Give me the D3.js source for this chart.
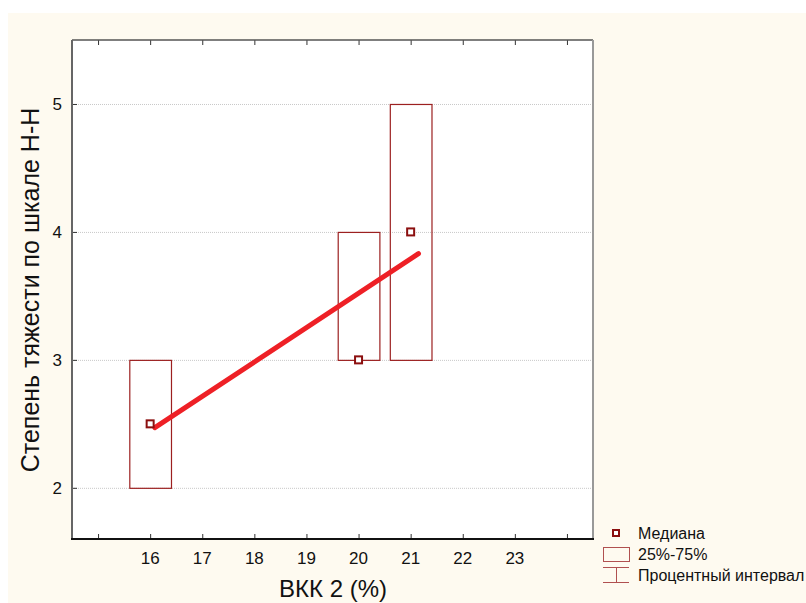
<!DOCTYPE html>
<html><head><meta charset="utf-8">
<script src="https://cdn.jsdelivr.net/npm/d3@7"></script>
<style>body{margin:0;background:#fff}svg{display:block}text{font-family:Arial,"Liberation Sans",sans-serif}</style>
</head><body><svg id="c" width="806" height="603"></svg>
<script>
const categories = [16, 20, 21];
const medians = [2.5, 3, 4];
const q25 = [2, 3, 3];
const q75 = [3, 4, 5];
const fitX = [16.09, 21.15];
const fitY = [2.47, 3.83];
const xTicks = [15,16,17,18,19,20,21,22,23,24];
const xLabels = [16,17,18,19,20,21,22,23];
const yTicks = [2,3,4,5];
const legendItems = ["Медиана", "25%-75%", "Процентный интервал"];

const svg = d3.select("#c");
const L=72, R=593, T=40, B=539;
svg.append("rect").attr("x",8).attr("y",13).attr("width",798).attr("height",590).attr("fill","#fefaf0");
svg.append("rect").attr("x",L).attr("y",T).attr("width",R-L).attr("height",B-T).attr("fill","#fff");

const x = d3.scaleLinear().domain([14.5,24.5]).range([L,R]);
const y = d3.scaleLinear().domain([1.6,5.5]).range([B,T]);

// grid
svg.append("g").selectAll("line").data(yTicks).join("line")
  .attr("x1",L).attr("x2",R).attr("y1",d=>y(d)+0.5).attr("y2",d=>y(d)+0.5)
  .attr("stroke","#c8c8c8").attr("stroke-dasharray","1,1");

// axes ticks (inward)
const gb = svg.append("g").attr("transform",`translate(0,${B})`)
  .call(d3.axisBottom(x).tickValues(xTicks).tickSize(-5).tickFormat(""));
const gt = svg.append("g").attr("transform",`translate(0,${T})`)
  .call(d3.axisTop(x).tickValues(xTicks).tickSize(-5).tickFormat(""));
const gl = svg.append("g").attr("transform",`translate(${L},0)`)
  .call(d3.axisLeft(y).tickValues(yTicks).tickSize(-5).tickFormat(""));
[gb,gt,gl].forEach(g=>{g.select(".domain").remove();g.selectAll("line").attr("stroke","#333");});

// tick labels
svg.append("g").selectAll("text").data(xLabels).join("text")
  .attr("x",d=>x(d)).attr("y",B+25).attr("text-anchor","middle").attr("font-size",17).attr("fill","#111").text(d=>d);
svg.append("g").selectAll("text").data(yTicks).join("text")
  .attr("x",L-10).attr("y",d=>y(d)+6).attr("text-anchor","end").attr("font-size",17).attr("fill","#111").text(d=>d);

// frame
svg.append("line").attr("x1",L).attr("x2",R).attr("y1",T).attr("y2",T).attr("stroke","#555").attr("stroke-width",1.5);
svg.append("line").attr("x1",R).attr("x2",R).attr("y1",T).attr("y2",B).attr("stroke","#999").attr("stroke-width",2);
svg.append("line").attr("x1",L).attr("x2",L).attr("y1",T).attr("y2",B).attr("stroke","#666").attr("stroke-width",2);
svg.append("line").attr("x1",L-1).attr("x2",R+1).attr("y1",B).attr("y2",B).attr("stroke","#111").attr("stroke-width",2);

// boxes
const bw = 0.4;
svg.append("g").selectAll("rect").data(categories).join("rect")
  .attr("x",d=>x(d-bw)+0.5).attr("width",d=>x(d+bw)-x(d-bw))
  .attr("y",(d,i)=>y(q75[i])+0.5).attr("height",(d,i)=>y(q25[i])-y(q75[i]))
  .attr("fill","none").attr("stroke","#9c2020").attr("stroke-width",1.2);

// fit line
svg.append("line").attr("x1",x(fitX[0])).attr("y1",y(fitY[0])).attr("x2",x(fitX[1])).attr("y2",y(fitY[1]))
  .attr("stroke","#ee2026").attr("stroke-width",5).attr("stroke-linecap","round");

// medians
svg.append("g").selectAll("rect").data(categories).join("rect")
  .attr("x",d=>x(d)-3.5).attr("y",(d,i)=>y(medians[i])-3.5).attr("width",7).attr("height",7)
  .attr("fill","#fff").attr("stroke","#8b0f0f").attr("stroke-width",2);

// axis titles
svg.append("text").attr("x",333).attr("y",597).attr("text-anchor","middle").attr("font-size",24).attr("fill","#111").text("ВКК 2 (%)");
svg.append("text").attr("transform","translate(39,290) rotate(-90)").attr("text-anchor","middle").attr("font-size",25).attr("fill","#111").text("Степень тяжести по шкале Н-Н");

// legend
const lg = svg.append("g");
lg.append("rect").attr("x",613).attr("y",530).attr("width",6).attr("height",6).attr("fill","#fff").attr("stroke","#8b0f0f").attr("stroke-width",2);
lg.append("rect").attr("x",603.5).attr("y",547.5).attr("width",26).attr("height",14).attr("fill","none").attr("stroke","#b05050").attr("stroke-width",1);
lg.append("line").attr("x1",603).attr("x2",629).attr("y1",567.5).attr("y2",567.5).attr("stroke","#b05050");
lg.append("line").attr("x1",616.5).attr("x2",616.5).attr("y1",567).attr("y2",582).attr("stroke","#b05050");
lg.append("line").attr("x1",603).attr("x2",629).attr("y1",582.5).attr("y2",582.5).attr("stroke","#b05050");
lg.selectAll("text").data(legendItems).join("text")
  .attr("x",638).attr("y",(d,i)=>539+i*21).attr("font-size",16).attr("fill","#111").text(d=>d);
</script></body></html>
